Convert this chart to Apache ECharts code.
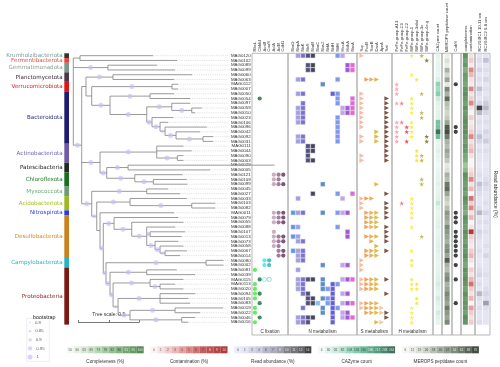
<!DOCTYPE html>
<html>
<head>
<meta charset="utf-8">
<script src="https://cdn.jsdelivr.net/npm/echarts@6/dist/echarts.min.js"></script>
<style>
  html, body { margin: 0; padding: 0; background: #fff; }
  #main { width: 500px; height: 367px; }
</style>
</head>
<body>
<div id="main"></div>
<script>
// ---------- data ----------
var mags = ['MAG0120','MAG0102','MAG0089','MAG0099','MAG0060','MAG0063','MAG0112','MAG0007','MAG0050','MAG0054',
  'MAG0097','MAG0059','MAG0010','MAG0023','MAG0106','MAG0096','MAG0042','MAG0092','MAG0031','MAG0111',
  'MAG0044','MAG0090','MAG0003','MAG0029','MAG0005','MAG0121','MAG0109','MAG0099','MAG0045','MAG0027',
  'MAG0033','MAG0103','MAG0082','MAG0011','MAG0079','MAG0055','MAG0088','MAG0107','MAG0013','MAG0073',
  'MAG0058','MAG0067','MAG0014','MAG0080','MAG0002','MAG0081','MAG0039','MAG0115','MAG0113','MAG0020',
  'MAG0094','MAG0105','MAG0083','MAG0019','MAG0022','MAG0046','MAG0016'];

var phylumNames = ['Krumholzibacteriota','Fermentibacterota','Gemmatimonadota','Planctomycetota','Verrucomicrobiota',
  'Bacteroidota','Actinobacteriota','Patescibacteria','Chloroflexota','Myxococcota','Acidobacteriota',
  'Nitrospirota','Desulfobacterota','Campylobacterota','Proteobacteria'];
var phylumFirst = [0, 1, 2, 4, 6, 8, 19, 23, 25, 28, 30, 33, 34, 43, 45];
var phylumLast  = [0, 1, 3, 5, 7, 18, 22, 24, 27, 29, 32, 33, 42, 44, 56];
var phylumBarColors  = ['#333333','#e8423c','#7c9990','#4a3a48','#dd1515','#1c1c70','#6e5aa8','#232a23',
  '#1b6e1f','#6b9c72','#9cb922','#2b3be0','#c8841a','#2ab2c8','#7a1a12'];
var phylumTextColors = ['#7a9a9a','#ef4a40','#8aa094','#3a2a3a','#e01c1c','#2a2a86','#7262b4','#222222',
  '#1e7a22','#6aaa7a','#a2c022','#2a3ae0','#d48a22','#2ab0c8','#8a1c1c'];

// tree (newick, branch lengths in substitutions per site, internal labels = bootstrap)
var cladeTop = '(MAG0120:0.598,MAG0102:0.795):0.055,(MAG0089:0.402,MAG0099:0.549)1:0.284';
var cladeBacteroidota = '((MAG0050:0.197,MAG0054:0.328)1:0.328,((MAG0097:0.15,(MAG0059:0.082,MAG0010:0.027)1:0.164)1:0.205,' +
  '(MAG0023:0.175,(MAG0106:0.066,(MAG0096:0.342,(MAG0042:0.197,(MAG0092:0.082,MAG0031:0.082)1:0.221)1:0.09)0.9:0.041)1:0.066)1:0.043)1:0.301)1';
var cladePlancVerr = '((MAG0060:0.648,MAG0063:0.5)1:0.221,((MAG0112:0.049,MAG0007:0.049)1:0.658,' + cladeBacteroidota + ':0.15):0.047):0.035';
var cladeActinoChloro = '((MAG0111:0.218,MAG0044:0.287,(MAG0090:0.049,MAG0003:0.049)1:0.169)1:0.465,' +
  '((MAG0029:1.2,MAG0005:0.672)1:0.175,(MAG0121:0.393,(MAG0109:0.274,MAG0099:0.279)1:0.152)1:0.23)1:0.055)1:0.15';
var cladeDesulfo = '(MAG0079:0.527,(MAG0055:0.423,(MAG0088:0.232,(MAG0107:0.287,MAG0013:0.26)0.95:0.027,' +
  '(MAG0073:0.191,(MAG0058:0.191,(MAG0067:0.178,MAG0014:0.123)0.9:0.041)1:0.041)1:0.068)1:0.123)1:0.145)1';
var cladeProteo = '((MAG0081:0.246,MAG0039:0.396)1:0.301,((MAG0115:0.273,(MAG0113:0.123,MAG0020:0.191)1:0.082)1:0.303,' +
  '((MAG0094:0.287,MAG0105:0.232,MAG0083:0.246)1:0.344,((MAG0019:0.393,MAG0022:0.205)1:0.369,(MAG0046:0.109,MAG0016:0.054)1:0.424)1:0.098)0.9:0.041)1:0.025)1';
var cladeRest = '((MAG0045:0.175,MAG0027:0.273)1:0.451,((MAG0033:0.465,(MAG0103:0.191,MAG0082:0.191)1:0.506)1:0.273,' +
  '(MAG0011:0.607,(' + cladeDesulfo + ':0.088,((MAG0080:0.142,MAG0002:0.142)1:0.82,' + cladeProteo + ':0.033)0.95:0.022)1:0.027):0.027)0.95:0.041)1:0.082';
var newick = '(' + cladeTop + ',(' + cladePlancVerr + ',' + cladeActinoChloro + ',' + cladeRest + ')1:0.069);';
var bootstrapLevels = [0.8, 0.85, 0.9, 0.95, 1];

// marker genes: for each column the rows holding a hit
var cFixGenes = ['RbcL','CbbM','AcsB','CooS','AclA','AclB','CdhD'];
var cFixColors = ['#3be83b','#1c6b3a','#35e4f2','#25adb0','#b99aaf','#8c5b86','#5c2c56'];
var cFixRows = [[45,48,49,50,51,53,54,56],[9,47,50,52,55],[43,44],[43,44],
  [25,26,27,33,34,35,37,38,39,40],[25,26,27,33,34,35,38,39,40,41,42],[25,27,33,34,35,38,39,41,42]];
var cFixHollow = [[2,47],[3,47]];

var nGenes = ['NarG','NapA','NirK','NirS','NorB','NorC','NosZ','NrfA','NrfH','NifH','HzsA','HdhA','NxrA'];
var nColors = ['#2f7fd8','#8b87d6','#5a4fbf','#25254e','#16162e','#67b0e8','#2e74b8','#5b82e6','#3a3ac8',
  '#5f7ee6','#b48de0','#8a2fc0','#e83ccc'];
var nRows = [[33,36,38,41],
  [0,5,8,11,12,13,14,17,18,30,33,36,38,39,41,42,43,45,47,48,49,55,56],
  [0,5,8,10,11,12,13,14,17,18,33,39,41,42,43,47,48,49,50,53,55,56],
  [0,2,3,19,20,21,22,47,50,51,52,55,56],
  [0,2,3,19,20,22,29,47,51,52,55],
  [52],
  [6,27,33,44,47,48,49,51,53,54],
  [49,51,52],
  [8,48,49,50,51,52,53,54,55,56],
  [0,5,8,9,10,13,14,15,16,17,18,29,33,36,48,53],
  [0,11,12,30,33,44,47,50,52,54,55],
  [2,3,11,12,33,37,38,44,47,50,52,54,55],
  [2,3,9,10,11,12,29,47,52,55]];

var sGenes = ['Sqr','FccB','SoxB','DsrA','AprA','Sat'];
var sColors = ['#f7a98a','#ee8a2a','#e39a2c','#d6aa1a','#f0b890','#5a2a18'];
var sRows = [[0,8,9,10,11,12,13,14,15,17,18,21,22,30,31,32,43,44,45,47,48,49,52,53],
  [5,30,33,34,35,36,38,41,42,47,48,49,52,53,54],
  [5,30,33,34,35,36,38,39,41,42,47,48,49,52,53,54],
  [5,16,17,18,27,33,34,35,36,38,40,41,42,47,48,49,52,53,54,56],
  [53,54,56],
  [9,10,11,12,13,14,15,16,17,18,19,20,21,22,29,31,32,33,34,36,37,38,39,41,47,50,54,55]];

var hGenes = ['FeFe-group-A13','FeFe-group-C1','FeFe-group-C2','NiFe-group-1','NiFe-group-3abd','NiFe-group-3c','NiFe-group-4e-g'];
var hColors = ['#f58d9e','#ef5f70','#e8283a','#f2ea1c','#ece21e','#b5a823','#6b6412'];
var hRows = [[6,7,8,10,14,15,16,17,18],[10,14,31],[15,16,18],
  [0,4,9,10,11,12,14,15,16,17,30,31,32,33,34,36,41,43,44,47,48,49,53,54,55,56],
  [5,20,21,22,48,49,51,52],[0,8,12,13,21,22,26,27,38],[1,17,18]];

var cobsRows = [6,15,16,33,34,35,37,38,39,40,41,42,44,47,52];

var cazyme = [20,15,25,20,15,40,120,100,130,60,30,25,30,30,150,150,280,160,25,20,30,20,15,10,15,20,25,30,20,25,
  30,70,30,20,25,30,35,20,25,30,40,30,25,20,20,25,30,35,50,30,25,50,30,25,50,30,25];
var merops = [10,20,12,40,25,45,15,55,40,65,35,30,25,30,45,70,76,60,40,35,45,40,30,15,20,40,35,60,65,45,
  30,25,35,50,45,40,55,50,45,40,50,55,45,70,40,35,50,55,40,45,55,50,45,60,50,45,55];
var completeness = [97,92,95,88,94,93,90,96,98,95,92,97,94,96,98,97,98,95,92,96,95,90,88,80,85,97,95,93,95,91,
  98,95,92,88,97,95,93,98,95,92,96,95,98,93,90,97,95,98,96,92,97,94,96,95,92,98,96];
var contamination = [1,2,0.5,5,3,1,0.5,5,1,2,5,1,0,2,0.5,1,2,5,1,2,3,1,0,0,1,2,5,1,3,0,
  6,2,5,1,3,0,1,10,2,1,0.5,2,3,1,0,2,1,3,6,2,1,3,0,4,2,1,2];
var abundBC1 = [1,2,1,3,1,2,1,5,2,1,3,14,6,1,2,1,2,5,3,1,2,1,1,0.5,1,2,1,5,3,2,
  1,1,2,6,1,2,1,3,2,1,1,2,1,0.5,1,2,3,1,2,1,6,2,1,2,1,1,2];
var abundBC2 = [1,5,1,2,1,3,1,2,1,2,4,6,3,1,2,1,3,2,4,1,2,1,1,0.5,1,1,2,3,2,1,
  1,2,1,3,1,2,1,2,1,1,2,1,3,1,1,1,2,1,1,2,3,2,8,2,1,1,1];

var completenessTicks = [56,60,65,69,73,78,82,86,91,95,100];
var contaminationTicks = [0,1,2,3,4,5,6,7,8,9,10];
var abundanceTicks = [0,1,3,4,6,7,8,10,11,12,14];
var cazymeTicks = [4,30,56,82,108,134,160,186,212,238,264];
var meropsTicks = [6,12,19,26,33,40,47,54,61,68,76];

// ---------- layout ----------
var rowTop = 53.3, rowH = 4.76, nRow = mags.length;
var treeH = nRow * rowH, panelBottom = 335, panelH = panelBottom - rowTop;
var panelMax = -0.5 + panelH / rowH;
var treeLeft = 73.3, pxPerUnit = 122, treeMax = 1.27;
var FONT = 'Liberation Sans';

// ---------- tree layout ----------
function parseNewick(s) {
  var i = 0;
  function node() {
    var n = { children: [] };
    if (s[i] === '(') {
      i++;
      n.children.push(node());
      while (s[i] === ',') { i++; n.children.push(node()); }
      i++;
    }
    var m = /^[^:,();]*/.exec(s.slice(i))[0];
    i += m.length; n.name = m;
    n.len = 0;
    if (s[i] === ':') {
      i++;
      var l = /^[0-9.eE-]+/.exec(s.slice(i))[0];
      i += l.length; n.len = +l;
    }
    return n;
  }
  return node();
}
var treeSegs = [], bootPts = [], leafCount = 0;
function layout(n, px) {
  n.x = px + n.len;
  var leaf = !n.children.length;
  if (leaf) {
    n.y = leafCount++;
  } else {
    n.children.forEach(function (c) { layout(c, n.x); });
    n.y = (n.children[0].y + n.children[n.children.length - 1].y) / 2;
  }
  treeSegs.push([px, n.x, n.y,
    leaf ? n.y : n.children[0].y, leaf ? n.y : n.children[n.children.length - 1].y, leaf ? 1 : 0]);
  if (!leaf && n.name) bootPts.push([(px + n.x) / 2, n.y, +n.name]);
}
layout(parseNewick(newick), 0);

function bsSize(v) { return 1.6 + (v - 0.8) / 0.2 * 3.4; }

// ---------- option ----------
var option = { animation: false, grid: [], xAxis: [], yAxis: [], series: [], visualMap: [], graphic: [], title: [] };
function addGrid(g, xa, ya) {
  option.grid.push(g);
  var gi = option.grid.length - 1;
  xa.gridIndex = gi; ya.gridIndex = gi;
  option.xAxis.push(xa); option.yAxis.push(ya);
  return { x: option.xAxis.length - 1, y: option.yAxis.length - 1 };
}
function hiddenAxis() { return { type: 'value', show: false }; }
function rowAxis(max) { return { type: 'value', inverse: true, min: -0.5, max: max, show: false }; }
function headerAxis(names) {
  return {
    type: 'category', data: names, position: 'top',
    axisLine: { show: false }, axisTick: { show: false }, splitLine: { show: false },
    axisLabel: { rotate: 90, fontSize: 4.2, margin: 1.8, interval: 0, color: '#333', fontFamily: FONT }
  };
}
function addBox(l, r) {
  addGrid({ left: l, width: r - l, top: rowTop, height: panelH, show: true, borderColor: '#a6a6a6', borderWidth: 0.8 },
    hiddenAxis(), hiddenAxis());
}

// tree
var tAx = addGrid({ left: treeLeft, width: treeMax * pxPerUnit, top: rowTop, height: treeH },
  { type: 'value', min: 0, max: treeMax, show: false }, rowAxis(nRow - 0.5));
option.series.push({
  type: 'custom', xAxisIndex: tAx.x, yAxisIndex: tAx.y, data: treeSegs, silent: true,
  encode: { x: [0, 1], y: 2 },
  renderItem: function (params, api) {
    var x0 = api.value(0), x1 = api.value(1), y = api.value(2);
    var a = api.coord([x0, y]), b = api.coord([x1, y]);
    var line = { stroke: '#808080', lineWidth: 0.8 };
    var ch = [{ type: 'line', shape: { x1: a[0], y1: a[1], x2: b[0], y2: b[1] }, style: line }];
    if (api.value(5)) {
      var e = api.coord([treeMax, y]);
      ch.push({ type: 'line', shape: { x1: b[0], y1: b[1], x2: e[0], y2: e[1] },
        style: { stroke: '#c4c4c4', lineWidth: 0.6, lineDash: [0.8, 1] } });
    } else {
      var c = api.coord([x1, api.value(3)]), d = api.coord([x1, api.value(4)]);
      ch.push({ type: 'line', shape: { x1: c[0], y1: c[1], x2: d[0], y2: d[1] }, style: line });
    }
    return { type: 'group', children: ch };
  }
});
option.series.push({
  type: 'scatter', xAxisIndex: tAx.x, yAxisIndex: tAx.y, data: bootPts, silent: true,
  symbolSize: function (v) { return bsSize(v[2]); },
  itemStyle: { color: 'rgba(196,192,244,0.85)' }
});

// phylum strip + names
var pAx = addGrid({ left: 64.3, width: 4.7, top: rowTop, height: treeH },
  { type: 'value', min: 0, max: 1, show: false }, rowAxis(nRow - 0.5));
option.series.push({
  type: 'custom', xAxisIndex: pAx.x, yAxisIndex: pAx.y, silent: true,
  data: phylumNames.map(function (n, i) { return [phylumFirst[i], phylumLast[i], i]; }),
  encode: { y: [0, 1] },
  renderItem: function (params, api) {
    var i = api.value(2);
    var p0 = api.coord([0, api.value(0) - 0.5]), p1 = api.coord([1, api.value(1) + 0.5]);
    return { type: 'group', children: [
      { type: 'rect', shape: { x: p0[0], y: p0[1], width: p1[0] - p0[0], height: p1[1] - p0[1] },
        style: { fill: phylumBarColors[i] } },
      { type: 'text', style: { text: phylumNames[i], x: p0[0] - 1.6, y: (p0[1] + p1[1]) / 2,
        align: 'right', verticalAlign: 'middle', textAlign: 'right', textVerticalAlign: 'middle',
        fill: phylumTextColors[i], font: '5.6px "DejaVu Sans"' } }
    ] };
  }
});

// MAG labels
addGrid({ left: 252, width: 1, top: rowTop, height: treeH }, hiddenAxis(),
  { type: 'category', data: mags, inverse: true, position: 'left',
    axisLine: { show: false }, axisTick: { show: false },
    axisLabel: { fontSize: 4.4, margin: 1.3, interval: 0, color: '#333', fontFamily: FONT } });

// marker panels
function addPanel(box, left, step, names, colors, rows, symbol, size, rotate, hollow, border) {
  addBox(box[0], box[1]);
  var ax = addGrid({ left: left, width: names.length * step, top: rowTop, height: panelH },
    headerAxis(names), rowAxis(panelMax));
  var data = [];
  rows.forEach(function (list, c) {
    list.forEach(function (r) { data.push({ value: [c, r], itemStyle: { color: colors[c] } }); });
  });
  (hollow || []).forEach(function (h) {
    data.push({ value: [h[0], h[1]], itemStyle: { color: '#fff', borderColor: colors[h[0]], borderWidth: 0.6 } });
  });
  option.series.push({
    type: 'scatter', xAxisIndex: ax.x, yAxisIndex: ax.y, data: data, silent: true,
    symbol: symbol, symbolSize: size, symbolRotate: rotate,
    itemStyle: border ? { borderColor: border, borderWidth: 0.5 } : {}
  });
}
var starPath = 'path://M50,0 L61.8,35.4 L100,35.4 L69.1,57.3 L80.9,93.3 L50,71.4 L19.1,93.3 L30.9,57.3 L0,35.4 L38.2,35.4 Z';
addPanel([252, 288], 252.6, 4.72, cFixGenes, cFixColors, cFixRows, 'circle', 4.2, 0, cFixHollow);
addPanel([288, 357], 290.6, 4.95, nGenes, nColors, nRows, 'rect', 4.4, 0, null, '#d6d4f2');
addPanel([357, 392], 359.2, 5, sGenes, sColors, sRows, 'triangle', 4.6, -90);
addPanel([392, 433], 394.2, 5, hGenes, hColors, hRows, starPath, 4.8, 0);

// numeric columns
function addHeat(box, left, cellW, names, columns, symbolH) {
  addBox(box[0], box[1]);
  var ax = addGrid({ left: left, width: cellW * names.length, top: rowTop, height: panelH },
    headerAxis(names), rowAxis(panelMax));
  return { ax: ax, idx: columns.map(function (vals, c) {
    option.series.push({
      type: 'scatter', xAxisIndex: ax.x, yAxisIndex: ax.y, silent: true,
      symbol: 'rect', symbolSize: [cellW - 0.8, symbolH || rowH + 0.1],
      data: vals.map(function (v, r) { return [c, r, v]; })
    });
    return option.series.length - 1;
  }) };
}
var sCaz = addHeat([433, 442], 435.3, 5.4, ['CAZyme count'], [cazyme]).idx;
var sMer = addHeat([442, 452], 444.2, 5.8, ['MEROPS peptidase count'], [merops]).idx;
addBox(452, 461);
var cbAx = addGrid({ left: 453.5, width: 4.5, top: rowTop, height: panelH }, headerAxis(['CobS']), rowAxis(panelMax));
option.series.push({ type: 'scatter', xAxisIndex: cbAx.x, yAxisIndex: cbAx.y, silent: true, symbolSize: 4.2,
  itemStyle: { color: '#111' }, data: cobsRows.map(function (r) { return [0, r]; }) });
var sQual = addHeat([461, 475], 462.5, 5.75, ['completeness', 'contamination'], [completeness, contamination]).idx;
var abund = addHeat([475, 490], 476.2, 6.5, ['RC20-BC1 10-11 cm', 'RC20-BC2 6-8 cm'], [abundBC1, abundBC2]);
option.yAxis[abund.ax.y] = {
  gridIndex: option.grid.length - 1, type: 'value', inverse: true, min: -0.5, max: panelMax, position: 'right',
  axisLine: { show: false }, axisTick: { show: false }, axisLabel: { show: false }, splitLine: { show: false },
  name: 'Read abundance (%)', nameLocation: 'middle', nameRotate: -90, nameGap: 4,
  nameTextStyle: { fontSize: 5, color: '#333', fontFamily: FONT }
};

// panel captions
[['C fixation', 270], ['N metabolism', 322.5], ['S metabolism', 374.5], ['H metabolism', 412.5]].forEach(function (t) {
  option.graphic.push({ type: 'text', x: t[1], y: 331.5, silent: true,
    style: { text: t[0], font: '4.6px "Liberation Sans"', fill: '#333', align: 'center', verticalAlign: 'middle',
      textAlign: 'center', textVerticalAlign: 'middle' } });
});

// colour-scale legends
function addLegend(left, ticks, title, darkFrom) {
  var w = 77, bw = w / ticks.length;
  var ax = addGrid({ left: left, width: w, top: 346.3, height: 7 },
    { type: 'category', data: ticks.map(String), axisLine: { show: false }, axisTick: { show: false },
      axisLabel: { show: false }, name: title, nameLocation: 'middle', nameGap: 5.5,
      nameTextStyle: { fontSize: 4.6, color: '#333', fontFamily: FONT } },
    { type: 'value', min: -1, max: 1, show: false });
  option.series.push({
    type: 'scatter', xAxisIndex: ax.x, yAxisIndex: ax.y, silent: true, symbol: 'rect', symbolSize: [bw, 7],
    data: ticks.map(function (t, i) { return { value: [i, 0, t], label: { color: i >= darkFrom ? '#fff' : '#333' } }; }),
    label: { show: true, position: 'inside', fontSize: 3.2, fontFamily: FONT,
      formatter: function (p) { return String(p.value[2]); } }
  });
  return option.series.length - 1;
}
var lComp = addLegend(66.7, completenessTicks, 'Completeness (%)', 8);
var lCont = addLegend(150.5, contaminationTicks, 'Contamination (%)', 8);
var lAbund = addLegend(234.3, abundanceTicks, 'Read abundance (%)', 6);
var lCaz = addLegend(318.1, cazymeTicks, 'CAZyme count', 7);
var lMer = addLegend(401.9, meropsTicks, 'MEROPS peptidase count', 7);

function vm(min, max, colors, series) {
  option.visualMap.push({ type: 'continuous', show: false, min: min, max: max, dimension: 2,
    seriesIndex: series, inRange: { color: colors } });
}
vm(56, 100, ['#f3f8f1', '#c8e0c2', '#8fbf88', '#58985a', '#2c6b2e'], [sQual[0], lComp]);
vm(0, 10, ['#fbf1f1', '#eab4b4', '#d46a6a', '#b02a2a', '#9a0a0a'], [sQual[1], lCont]);
vm(0, 14, ['#e6e6f7', '#c6c6e0', '#9898ac', '#5a5a62', '#111111'], abund.idx.concat([lAbund]));
vm(4, 264, ['#eef9f4', '#b6e3cf', '#62c09a', '#2b8c64', '#0f4a30'], [sCaz[0], lCaz]);
vm(6, 76, ['#f4f5f1', '#c9d1c2', '#8c9c8a', '#4a6048', '#112011'], [sMer[0], lMer]);

// bootstrap legend
var bAx = addGrid({ left: 26.7, width: 22.6, top: 318.3, height: 43, show: true, borderColor: '#e2e2e2', borderWidth: 0.6 },
  { type: 'value', min: 0, max: 10, show: false },
  { type: 'category', data: bootstrapLevels.map(String), inverse: true, show: false });
option.series.push({
  type: 'scatter', xAxisIndex: bAx.x, yAxisIndex: bAx.y, silent: true,
  data: bootstrapLevels.map(function (v, i) { return [1.5, i, v]; }),
  symbolSize: function (v) { return bsSize(v[2]); },
  itemStyle: { color: 'rgba(196,192,244,0.85)' },
  label: { show: true, position: 'right', distance: 4, fontSize: 4.3, color: '#333', fontFamily: FONT,
    formatter: function (p) { return String(p.value[2]); } }
});
option.title.push({ text: 'bootstrap', left: 28, top: 310.5, textStyle: { fontSize: 5.4, fontWeight: 'normal', color: '#222', fontFamily: FONT } });

// tree scale bar
addGrid({ left: 78.3, width: 0.5 * pxPerUnit, top: 321, height: 1 },
  { type: 'value', min: 0, max: 0.5, interval: 0.25, position: 'top',
    axisLine: { lineStyle: { color: '#555', width: 0.8 } },
    axisTick: { show: true, length: 2, lineStyle: { color: '#555', width: 0.8 } },
    axisLabel: { show: false }, splitLine: { show: false },
    name: 'Tree scale: 0.5', nameLocation: 'middle', nameGap: 3.5,
    nameTextStyle: { fontSize: 5, color: '#333', fontFamily: FONT } },
  { type: 'value', show: false });

var chart = echarts.init(document.getElementById('main'), null, { renderer: 'canvas' });
chart.setOption(option);
</script>
</body>
</html>
